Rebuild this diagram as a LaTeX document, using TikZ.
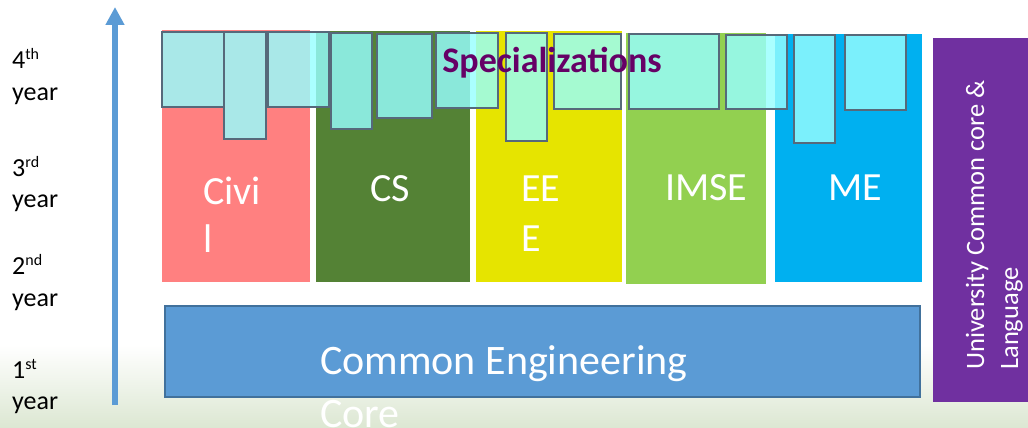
\documentclass[tikz,border=0pt]{standalone}
\usepackage{fontspec}
\setmainfont{Carlito}
\usetikzlibrary{arrows.meta,fit}

\definecolor{civilc}{HTML}{FF8080}
\definecolor{csc}{HTML}{548235}
\definecolor{eeec}{HTML}{E6E400}
\definecolor{imsec}{HTML}{92D050}
\definecolor{mec}{HTML}{00B0F0}
\definecolor{corec}{HTML}{5B9BD5}
\definecolor{coreline}{HTML}{41719C}
\definecolor{univc}{HTML}{7030A0}
\definecolor{specfill}{RGB}{151,255,255}
\definecolor{specline}{HTML}{56697A}
\definecolor{spectext}{HTML}{660066}
\definecolor{arrowc}{HTML}{5B9BD5}
\definecolor{hazec}{RGB}{220,231,210}

\begin{document}
\begin{tikzpicture}[x=1pt,y=-1pt,
  block/.style={inner sep=0pt, outer sep=0pt, draw=none},
  specbox/.style={inner sep=0pt, outer sep=0pt, draw=specline, line width=1.2pt,
    fill=specfill, fill opacity=0.82},
  collabel/.style={inner sep=0pt, anchor=base west, text=white,
    font=\fontsize{40}{48}\selectfont},
  yearlbl/.style={inner sep=0pt, anchor=base west, text=black,
    font=\fontsize{26}{32}\selectfont},
  corelbl/.style={inner sep=0pt, anchor=base west, text=white,
    font=\fontsize{42}{50}\selectfont},
  univlbl/.style={inner sep=0pt, anchor=base west, text=white, rotate=90,
    font=\fontsize{26.5}{34}\selectfont},
]
\useasboundingbox (0,0) rectangle (1028,428);

% soft green ground at the bottom
\shade[top color=white, bottom color=hazec] (0,345) rectangle (1028,428);

% year axis
\coordinate (axisbot) at (115,405);
\coordinate (axistop) at (115,7);
\draw[arrowc, line width=6pt, -{Triangle[width=18pt,length=18pt]}] (axisbot) -- (axistop);

\newcommand{\yr}[2]{#1\raisebox{9pt}{\fontsize{16}{16}\selectfont #2}}
\node[yearlbl] (y4a) at (12,68)  {\yr{4}{th}};
\node[yearlbl] (y4b) at (12,100) {year};
\node[yearlbl] (y3a) at (12,176) {\yr{3}{rd}};
\node[yearlbl] (y3b) at (12,207) {year};
\node[yearlbl] (y2a) at (12,274) {\yr{2}{nd}};
\node[yearlbl] (y2b) at (12,306) {year};
\node[yearlbl] (y1a) at (12,378) {\yr{1}{st}};
\node[yearlbl] (y1b) at (12,409) {year};

% department columns
\node[block, fill=civilc, fit={(162,30) (310,282)}] (civil) {};
\node[block, fill=csc,    fit={(316,31) (470,282)}] (cs) {};
\node[block, fill=eeec,   fit={(476,31) (622,282)}] (eee) {};
\node[block, fill=imsec,  fit={(626,33) (766,284)}] (imse) {};
\node[block, fill=mec,    fit={(775,34) (922,282)}] (me) {};

% common core and university core
\node[block, fill=corec, draw=coreline, line width=1.5pt, fit={(165,306) (920,397)}] (core) {};
\node[block, fill=univc, fit={(933,38) (1028,402)}] (univ) {};

% column labels
\node[collabel] (lcivil1) at (203,204) {Civi};
\node[collabel] (lcivil2) at (203,252) {l};
\node[collabel] (lcs)     at (370,201) {CS};
\node[collabel] (leee1)   at (521,201) {EE};
\node[collabel] (leee2)   at (521,251) {E};
\node[collabel] (limse)   at (665,200) {IMSE};
\node[collabel] (lme)     at (828,200) {ME};

\node[corelbl] (lcore1) at (320,374) {Common Engineering};
\node[corelbl] (lcore2) at (320,427) {Core};

\node[univlbl] (luniv1) at (984,370) {University Common core \&};
\node[univlbl] (luniv2) at (1018,370) {Language};

% specialization boxes
\node[specbox, fit={(162,32) (224,107)}] (sa) {};
\node[specbox, fit={(224,32) (266,139)}] (sb) {};
\node[specbox, fit={(268,32) (329,107)}] (sc) {};
\node[specbox, fit={(331,33) (372,129)}] (sd) {};
\node[specbox, fit={(377,34) (432,118)}] (se) {};
\node[specbox, fit={(436,33) (498,108)}] (sf) {};
\node[specbox, fit={(506,33) (547,141)}] (sg) {};
\node[specbox, fit={(554,34) (621,109)}] (sh) {};
\node[specbox, fit={(629,34) (719,109)}] (si) {};
\node[specbox, fit={(726,35) (787,109)}] (sj) {};
\node[specbox, fit={(794,35) (835,143)}] (sk) {};
\node[specbox, fit={(845,35) (906,110)}] (sl) {};

\node[inner sep=0pt, anchor=base, text=spectext,
  font=\bfseries\fontsize{36}{42}\selectfont] (spec) at (552,73) {Specializations};
\end{tikzpicture}
\end{document}
